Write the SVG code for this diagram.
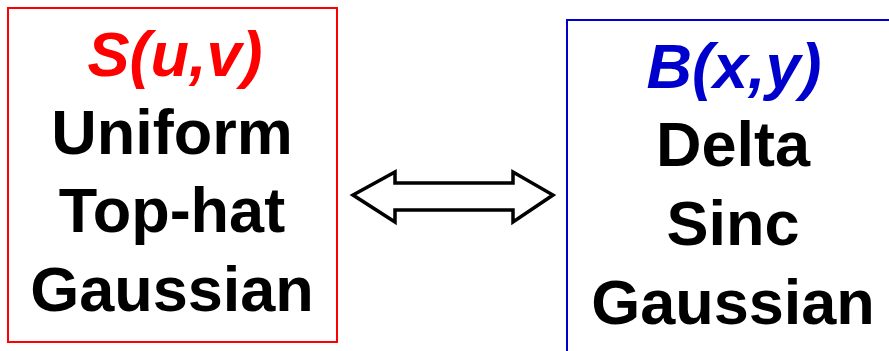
<svg xmlns="http://www.w3.org/2000/svg" width="889" height="351" viewBox="0 0 889 351">
<style>
.t{font-family:"Liberation Sans",Arial,sans-serif;font-weight:bold;font-size:63px;text-anchor:middle;fill:#000}
.h{font-style:italic}
</style>
<rect width="889" height="351" fill="#fff"/>
<g id="node-source">
<rect x="8" y="8" width="329" height="334" fill="none" stroke="#ff0000" stroke-width="2"/>
<text class="t h" x="175" y="76" style="fill:#ff0000">S(u,v)</text>
<text class="t" x="172" y="154">Uniform</text>
<text class="t" x="172" y="232">Top-hat</text>
<text class="t" x="172" y="311">Gaussian</text>
</g>
<g id="node-beam">
<rect x="567" y="20" width="340" height="350" fill="none" stroke="#0000cc" stroke-width="2"/>
<text class="t h" x="734" y="88" style="fill:#0000cc">B(x,y)</text>
<text class="t" x="733" y="166">Delta</text>
<text class="t" x="733" y="245">Sinc</text>
<text class="t" x="733" y="324">Gaussian</text>
</g>
<g id="connectors">
<path d="M353,195 L395,172 L395,183 L513,183 L513,172 L553,195 L513,222 L513,210 L395,210 L395,222 Z" fill="#fff" stroke="#000" stroke-width="3.5" stroke-linejoin="miter"/>
</g>
</svg>
